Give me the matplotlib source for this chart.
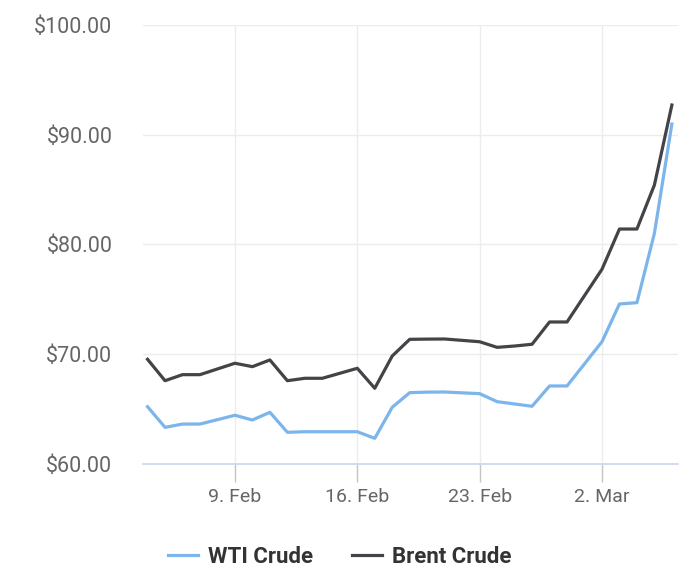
import numpy as np
import pandas as pd
import matplotlib
matplotlib.use("Agg")
import matplotlib.pyplot as plt
import matplotlib.dates as mdates
from matplotlib.ticker import FuncFormatter

plt.rcParams['font.family'] = ['Roboto', 'DejaVu Sans']

# data
dates = ['2026-02-04', '2026-02-05', '2026-02-06', '2026-02-07', '2026-02-09',
         '2026-02-10', '2026-02-11', '2026-02-12', '2026-02-13', '2026-02-14',
         '2026-02-16', '2026-02-17', '2026-02-18', '2026-02-19', '2026-02-20',
         '2026-02-21', '2026-02-23', '2026-02-24', '2026-02-25', '2026-02-26',
         '2026-02-27', '2026-02-28', '2026-03-02', '2026-03-03', '2026-03-04',
         '2026-03-05', '2026-03-06']
wti = [65.22, 63.34, 63.64, 63.64, 64.44, 64.01, 64.71, 62.89, 62.94, 62.94,
       62.94, 62.34, 65.17, 66.50, 66.55, 66.56, 66.41, 65.68, 65.47, 65.26,
       67.11, 67.11, 71.14, 74.58, 74.70, 81.02, 90.98]
brent = [69.54, 67.59, 68.14, 68.14, 69.18, 68.87, 69.48, 67.59, 67.81, 67.81,
         68.72, 66.90, 69.84, 71.36, 71.38, 71.39, 71.14, 70.63, 70.75, 70.91,
         72.94, 72.94, 77.74, 81.41, 81.41, 85.42, 92.71]
x_ticks = ['2026-02-09', '2026-02-16', '2026-02-23', '2026-03-02']
x_tick_labels = ['9. Feb', '16. Feb', '23. Feb', '2. Mar']
y_ticks = [60, 70, 80, 90, 100]

d = pd.to_datetime(dates)

fig = plt.figure(figsize=(7, 5.79), dpi=100)
ax = fig.add_axes([143 / 700, 1 - 464 / 579, 535 / 700, 439 / 579])

ax.plot(d, wti, color='#7cb5ec', lw=2.3, label='WTI Crude', solid_joinstyle='round')
ax.plot(d, brent, color='#434348', lw=2.3, label='Brent Crude', solid_joinstyle='round')

start = mdates.date2num(pd.Timestamp('2026-02-04'))
ax.set_xlim(start - 0.26, start + 30.35)
ax.set_ylim(60, 100)

ax.set_xticks(pd.to_datetime(x_ticks))
ax.set_xticklabels(x_tick_labels)
ax.set_yticks(y_ticks)
ax.yaxis.set_major_formatter(FuncFormatter(lambda v, p: '${:.2f}'.format(v)))

ax.grid(True, color='#ececec', lw=1)
ax.set_axisbelow(True)
for s in ['top', 'right', 'left']:
    ax.spines[s].set_visible(False)
ax.spines['bottom'].set_color('#ccd6eb')
ax.spines['bottom'].set_linewidth(1.2)

ax.tick_params(axis='x', length=13, width=1, color='#c4c4c4', pad=4,
               labelsize=14, labelcolor='#666666')
ax.tick_params(axis='y', length=0, pad=22, labelsize=15.5, labelcolor='#666666')

fig.legend(loc='center', bbox_to_anchor=(0.485, 1 - 557 / 579), ncol=2,
           frameon=False, handlelength=1.35, columnspacing=1.75, handletextpad=0.45,
           prop={'weight': 'bold', 'size': 16})
for t in fig.legends[0].get_texts():
    t.set_color('#333333')

fig.savefig('out.png', dpi=100)
